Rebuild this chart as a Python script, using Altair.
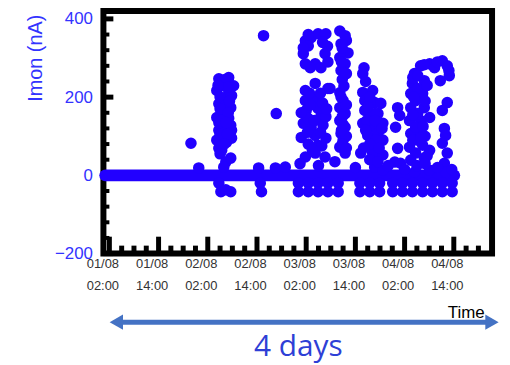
import altair as alt
import pandas as pd

# ---- data (time in hours since 01/08 00:00, current in nA) ----
base_hours = [1.0, 12.0, 24.0, 36.0, 48.0, 60.0, 72.0, 86.1]
base_values = [0, 0, 0, 0, 0, 0, 0, 0]

point_hours = [
    # burst on 02/08 morning
    28.7, 31.1, 32.3, 28.2, 31.1, 28.7, 31.6, 28.2, 31.1, 28.7, 31.8, 28.2, 30.6, 28.7,
    29.9, 29.9, 29.9, 29.9, 29.9, 29.4, 29.2, 31.8, 28.7, 31.6, 31.8, 29.4,
    30.2, 29.0, 30.8, 30.5, 29.0, 31.0, 29.3, 30.5, 29.0, 30.8, 30.0, 29.0, 31.3, 28.5,
    30.4, 31.6, 29.9, 28.7, 29.2, 31.6, 30.4,
    # isolated points
    21.9, 23.8, 39.6, 42.7, 38.8, 39.1, 38.4, 42.5, 44.9,
    # 03/08 early, upper
    49.8, 51.2, 52.9, 54.8, 49.3, 49.8, 52.2, 54.6, 53.6, 50.5, 49.3,
    50.5, 54.0, 55.2, 51.0, 55.3,
    # 03/08 early, lower
    49.8, 52.2, 55.3, 49.8, 52.2, 50.0, 52.9, 53.6, 49.3, 51.2, 54.1, 48.8, 52.2, 54.8,
    52.9, 49.8, 52.2, 54.6,
    50.8, 53.5, 51.0, 54.0, 50.5, 52.0, 54.8, 50.3, 53.5, 50.5, 53.8, 51.5, 48.8, 55.0,
    # 03/08 ~10:00
    58.2, 59.5, 58.5, 60.2, 58.2, 59.5, 58.5, 58.2, 59.0, 58.2, 59.5, 58.2, 59.5, 58.5,
    59.0, 58.2, 59.5, 55.8, 58.8, 59.2,
    58.8, 59.8, 58.6, 59.8, 58.5, 59.8, 58.8, 59.0, 59.8, 58.6, 58.8, 59.8,
    # 03/08 evening
    64.1, 63.8, 63.8, 66.2, 64.3, 66.7, 64.3, 65.8, 67.5, 63.8, 66.2, 65.0, 67.5, 68.7,
    63.3, 66.7, 68.2, 66.7, 68.7, 66.2, 68.7, 66.7, 68.7,
    64.5, 65.5, 65.0, 64.8, 66.8, 64.5, 67.0, 65.5, 64.0, 67.8, 65.5, 67.5, 68.5,
    # 04/08 ~00:00
    72.3, 72.8, 71.8, 72.3, 71.6, 73.0,
    # 04/08 day, arc
    76.4, 77.9, 80.1, 81.3, 83.2, 84.4, 84.9, 82.7, 78.8, 82.0, 84.8,
    # 04/08 day, column
    75.9, 78.8, 75.5, 78.4, 75.5, 78.8, 75.2, 77.9, 80.1, 75.5, 77.9, 75.2, 78.4, 80.1,
    75.5, 78.8, 76.4, 80.1, 77.2, 76.7, 77.2, 76.7, 77.2, 76.7,
    76.0, 77.2, 79.5, 79.0, 76.0, 78.5, 79.0, 76.0, 79.5, 77.0, 78.0, 76.2,
    # 04/08 day, right column
    84.4, 83.2, 83.7, 84.0, 83.2, 84.4, 83.7, 84.0,
    # negative excursions, upper row
    48.1, 50.5, 52.9, 55.3, 57.8, 63.1, 65.5, 67.9, 71.1, 73.5, 75.9, 78.4, 80.8, 83.2, 85.6,
    # negative excursions, lower row
    48.1, 50.5, 52.9, 55.3, 57.8, 63.1, 65.5, 67.9, 71.1, 73.5, 75.9, 78.4, 80.8, 83.2, 85.6,
    # small positive values near baseline
    48.5, 53.0, 57.0, 62.0, 70.0, 74.0, 79.0, 82.0, 85.5,
]
point_values = [
    247, 250, 229, 217, 209, 183, 173, 148, 146, 115, 115, 90, 85, 69,
    229, 191, 160, 128, 97, 64, 237, 204, 135, 128, 95, 77,
    245, 200, 225, 180, 170, 160, 140, 135, 105, 105, 80, 55, 190, 230,
    34, 44, 21, -20, -42, -42, -37,
    82, 19, 357, 158, -20, -42, 19, 19, 21,
    344, 352, 362, 362, 311, 285, 285, 311, 275, 331, 326,
    360, 340, 330, 275, 290,
    217, 235, 222, 191, 196, 166, 171, 151, 133, 123, 128, 97, 102, 95,
    77, 47, 57, 47,
    210, 210, 180, 185, 145, 140, 150, 110, 110, 80, 75, 65, 160, 170,
    369, 357, 336, 313, 301, 285, 268, 211, 191, 173, 158, 140, 123, 107,
    90, 72, 57, 222, 245, 228,
    325, 345, 290, 260, 200, 180, 150, 130, 100, 115, 80, 70,
    275, 260, 212, 217, 191, 186, 166, 148, 158, 133, 123, 102, 107, 90,
    57, 59, 184, 158, 133, 57, 52, 21, 13,
    240, 200, 175, 140, 140, 115, 90, 80, 70, 70, 40, 35, 120,
    173, 153, 123, 69, 34, 31,
    260, 280, 285, 275, 293, 280, 255, 242, 283, 290, 268,
    235, 242, 209, 209, 173, 173, 140, 140, 148, 107, 110, 72, 77, 64,
    39, 44, 8, 13, 222, 191, 158, 123, 90, 57,
    250, 255, 230, 190, 155, 125, 100, 90, 50, 25, 95, 200,
    186, 166, 120, 102, 82, 57, 31, 8,
    -20, -20, -20, -20, -20, -20, -20, -20, -20, -20, -20, -20, -20, -20, -20,
    -42, -42, -42, -42, -42, -42, -42, -42, -42, -42, -42, -42, -42, -42, -42,
    30, 25, 35, 20, 25, 15, 30, 20, 15,
]

x_major = [2, 14, 26, 38, 50, 62, 74, 86]
x_minor = [5, 8, 11, 17, 20, 23, 29, 32, 35, 41, 44, 47, 53, 56, 59,
           65, 68, 71, 77, 80, 83, 89, 92]
y_major = [-200, 0, 200, 400]
y_minor = [-160, -120, -80, -40, 40, 80, 120, 160, 240, 280, 320, 360]
arrow_hours = [2, 97]
arrow_label = "4 days"

# ---- chart ----
W, H = 391, 244
BLUE = "#2200ff"
LBLUE = "#3333ff"
ARROW = "#4472c4"

pts = pd.DataFrame({"h": point_hours, "imon": point_values})
base = pd.DataFrame({"h": base_hours, "imon": base_values})

xs = alt.Scale(domain=[0.55, 95.33], nice=False, zero=False)
ys = alt.Scale(domain=[-200, 420], nice=False, zero=False)

label_expr = ("['0' + (floor(datum.value/24)+1) + '/08', "
              "(datum.value % 24 < 10 ? '0' : '') + (datum.value % 24) + ':00']")

x_axis = alt.Axis(values=x_major, labelExpr=label_expr, ticks=False, tickSize=0,
                  domain=False, grid=False, labelFontSize=13, labelColor="#333333",
                  labelLineHeight=22, labelOffset=-7, labelPadding=4, labelFlush=False,
                  labelFont="Liberation Sans",
                  title="Time", titleFontSize=17, titleFontWeight="normal",
                  titleColor="black", titleFont="Liberation Sans",
                  titleX=383, titleY=64, titleAlign="right", titleBaseline="alphabetic")
y_axis = alt.Axis(values=y_major, ticks=False, tickSize=0, domain=False, grid=False,
                  labelFontSize=17, labelColor=LBLUE, labelPadding=11,
                  labelFont="Liberation Sans",
                  title="Imon (nA)", titleFontSize=20, titleColor=LBLUE,
                  titleFontWeight="normal", titleFont="Liberation Sans",
                  titleX=-68, titleY=47, titleAlign="center", titleBaseline="middle")


def X(field):
    return alt.X(field, scale=xs, axis=x_axis)


def Y(field):
    return alt.Y(field, scale=ys, axis=y_axis)


baseline = alt.Chart(base).mark_line(color=BLUE, strokeWidth=12, strokeCap="round").encode(
    x=X("h:Q"), y=Y("imon:Q"))
points = alt.Chart(pts).mark_circle(size=135, color=BLUE, opacity=1).encode(
    x=X("h:Q"), y=Y("imon:Q"))

bt_major = alt.Chart(pd.DataFrame({"h": x_major})).mark_rule(color="black", strokeWidth=5).encode(
    x=X("h:Q"), y=alt.value(H), y2=alt.value(H - 17))
bt_minor = alt.Chart(pd.DataFrame({"h": x_minor})).mark_rule(color="black", strokeWidth=5).encode(
    x=X("h:Q"), y=alt.value(H), y2=alt.value(H - 8))
lt_major = alt.Chart(pd.DataFrame({"imon": y_major})).mark_rule(color="black", strokeWidth=5).encode(
    y=Y("imon:Q"), x=alt.value(0), x2=alt.value(10))
lt_minor = alt.Chart(pd.DataFrame({"imon": y_minor})).mark_rule(color="black", strokeWidth=4).encode(
    y=Y("imon:Q"), x=alt.value(0), x2=alt.value(6))

arrow_df = pd.DataFrame({"h": [arrow_hours[0]], "h1": [arrow_hours[1]]})
arrow_line = alt.Chart(arrow_df).mark_rule(color=ARROW, strokeWidth=5, xOffset=7, x2Offset=-7).encode(
    x=X("h:Q"), x2="h1:Q", y=alt.value(313))
head_l = alt.Chart(pd.DataFrame({"h": [arrow_hours[0]]})).mark_point(
    shape="triangle-left", size=240, filled=True, color=ARROW, opacity=1, xOffset=7).encode(
    x=X("h:Q"), y=alt.value(313))
head_r = alt.Chart(pd.DataFrame({"h": [arrow_hours[1]]})).mark_point(
    shape="triangle-right", size=240, filled=True, color=ARROW, opacity=1, xOffset=-7).encode(
    x=X("h:Q"), y=alt.value(313))
label = alt.Chart(pd.DataFrame({"t": [arrow_label]})).mark_text(
    font="Open Sans", fontSize=30, color="#2e3fd6", align="center", baseline="alphabetic").encode(
    text="t:N", x=alt.value(196), y=alt.value(347))

chart = alt.layer(
    bt_minor, bt_major, lt_minor, lt_major, baseline, points,
    arrow_line, head_l, head_r, label,
).properties(
    width=W, height=H,
    autosize=alt.AutoSizeParams(type="none"),
    padding={"left": 96, "top": 2, "right": 10, "bottom": 110},
    background="white",
).configure_view(stroke="black", strokeWidth=6)

chart.save("out.html", embed_options={"renderer": "svg", "actions": False})
